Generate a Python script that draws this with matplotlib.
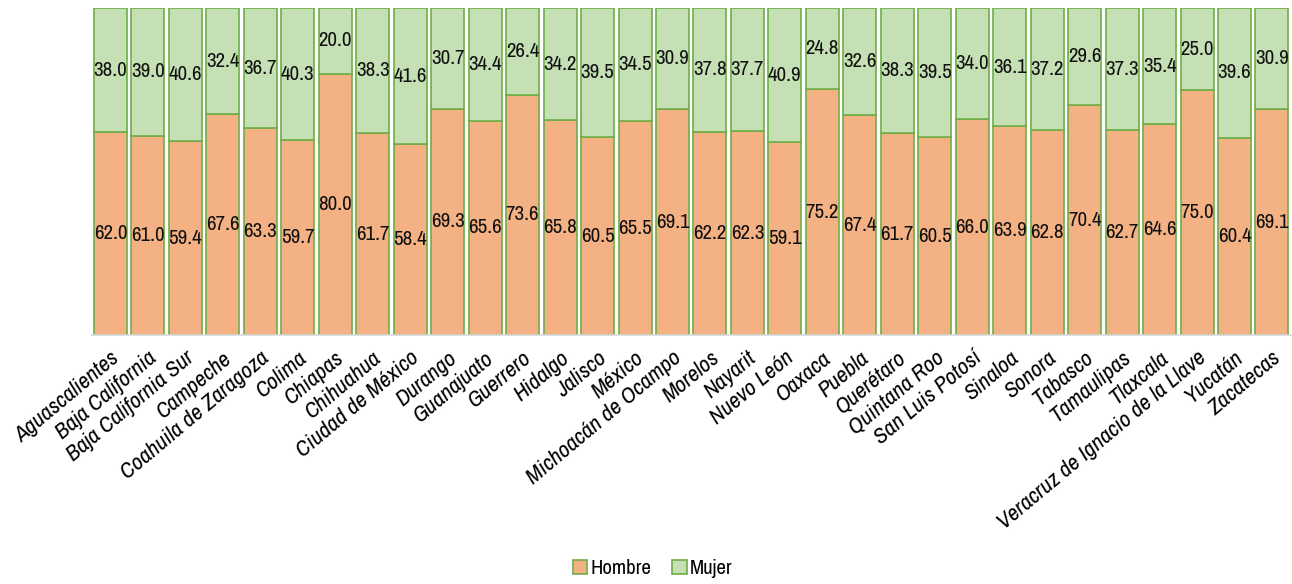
import matplotlib
matplotlib.use("Agg")
import matplotlib.pyplot as plt
from matplotlib import font_manager
import numpy as np

states = ["Aguascalientes", "Baja California", "Baja California Sur", "Campeche",
          "Coahuila de Zaragoza", "Colima", "Chiapas", "Chihuahua", "Ciudad de México",
          "Durango", "Guanajuato", "Guerrero", "Hidalgo", "Jalisco", "México",
          "Michoacán de Ocampo", "Morelos", "Nayarit", "Nuevo León", "Oaxaca", "Puebla",
          "Querétaro", "Quintana Roo", "San Luis Potosí", "Sinaloa", "Sonora", "Tabasco",
          "Tamaulipas", "Tlaxcala", "Veracruz de Ignacio de la Llave", "Yucatán", "Zacatecas"]
hombre = [62.0, 61.0, 59.4, 67.6, 63.3, 59.7, 80.0, 61.7, 58.4, 69.3, 65.6, 73.6, 65.8,
          60.5, 65.5, 69.1, 62.2, 62.3, 59.1, 75.2, 67.4, 61.7, 60.5, 66.0, 63.9, 62.8,
          70.4, 62.7, 64.6, 75.0, 60.4, 69.1]
mujer = [38.0, 39.0, 40.6, 32.4, 36.7, 40.3, 20.0, 38.3, 41.6, 30.7, 34.4, 26.4, 34.2,
         39.5, 34.5, 30.9, 37.8, 37.7, 40.9, 24.8, 32.6, 38.3, 39.5, 34.0, 36.1, 37.2,
         29.6, 37.3, 35.4, 25.0, 39.6, 30.9]
series_names = ["Hombre", "Mujer"]

names = {f.name for f in font_manager.fontManager.ttflist}
fam = "Liberation Sans"
for cand in ["Liberation Sans Narrow", "Arial Narrow", "Archivo Narrow", "PT Sans Narrow", "Roboto Condensed"]:
    if cand in names:
        fam = cand
        break
plt.rcParams["font.family"] = [fam, "DejaVu Sans"]

fig = plt.figure(figsize=(12.92, 5.84), dpi=100)
ax = fig.add_axes([0.071, 0.426, 0.928, 0.56])

x = np.arange(len(states))
c_h = "#F4B183"
c_m = "#C5E0B4"
edge = "#70AD47"
w = 0.88
b1 = ax.bar(x, hombre, width=w, color=c_h, edgecolor=edge, linewidth=1.2, label=series_names[0])
b2 = ax.bar(x, mujer, width=w, bottom=hombre, color=c_m, edgecolor=edge, linewidth=1.2, label=series_names[1])

fs = 15
for i in range(len(states)):
    ax.text(x[i], hombre[i] / 2, f"{hombre[i]:.1f}", ha="center", va="center", fontsize=fs, color="#111111")
    ax.text(x[i], hombre[i] + mujer[i] / 2, f"{mujer[i]:.1f}", ha="center", va="center", fontsize=fs, color="#111111")

ax.set_xlim(-0.5, len(states) - 0.5)
ax.set_ylim(0, 100)
ax.set_yticks([])
for s in ["left", "right", "top"]:
    ax.spines[s].set_visible(False)
ax.spines["bottom"].set_color("#d9d9d9")
ax.spines["bottom"].set_linewidth(1.2)
ax.set_xticks(x)
ax.set_xticklabels(states, rotation=40, ha="right", rotation_mode="anchor",
                   fontsize=16.5, fontstyle="italic")
ax.tick_params(axis="x", length=0, pad=9)

fig.legend(handles=[b1, b2], labels=series_names, loc="lower center", ncol=2,
           frameon=False, fontsize=fs, handlelength=0.7, handleheight=0.7,
           handletextpad=0.15, columnspacing=1.0, bbox_to_anchor=(0.505, -0.022))

fig.savefig("out.png", dpi=100)
